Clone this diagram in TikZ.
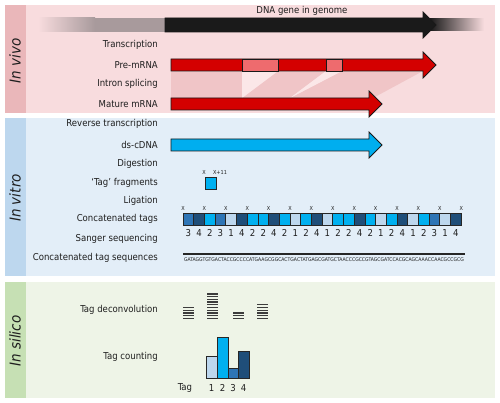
\documentclass[tikz,border=0pt]{standalone}
\usepackage{fontspec}
\usepackage{graphicx}
\setmainfont{DejaVu Sans Condensed}
\definecolor{txtgray}{HTML}{1E1E1E}
\definecolor{vivoBg}{HTML}{F8DCDE}
\definecolor{vivoStrip}{HTML}{EAB7BA}
\definecolor{vitroBg}{HTML}{E3EEF8}
\definecolor{vitroStrip}{HTML}{BDD7EE}
\definecolor{silicoBg}{HTML}{EEF4E7}
\definecolor{silicoStrip}{HTML}{C6E0B4}
\definecolor{geneGray}{HTML}{A89A9C}
\definecolor{geneBlack}{HTML}{1A1A1A}
\definecolor{exonRed}{HTML}{D40000}
\definecolor{intronRed}{HTML}{EE6B6E}
\definecolor{spliceShade}{HTML}{F0C5C7}
\definecolor{splicePale}{HTML}{FBE7E8}
\definecolor{cdnaBlue}{HTML}{00AEEF}
\definecolor{tag1}{HTML}{BDD7EE}
\definecolor{tag2}{HTML}{00B0F0}
\definecolor{tag3}{HTML}{2E75B6}
\definecolor{tag4}{HTML}{1F4E79}
\definecolor{stackGray}{HTML}{3C3C3C}

\begin{document}
\begin{tikzpicture}[x=1pt,y=-1pt,
  lbl/.style={anchor=east,inner sep=0pt,text=txtgray,font=\fontsize{9.5}{11}\selectfont},
  phase/.style={rotate=90,inner sep=0pt,text=txtgray,font=\fontsize{15}{17}\selectfont\itshape},
  outl/.style={draw=black!90,line width=0.8pt},
  tagbox/.style={draw=black!85,line width=0.8pt},
  xmark/.style={inner sep=0pt,text=txtgray,font=\fontsize{5.5}{6}\selectfont},
  num/.style={inner sep=0pt,text=txtgray,font=\fontsize{9.5}{11}\selectfont},
  stackline/.style={draw=stackGray,line width=1.3pt}]
\useasboundingbox (0,0) rectangle (500,403);

% panels
\fill[vivoBg] (5,5) rectangle (495,113);
\fill[vivoStrip] (5,5) rectangle (26,113);
\fill[vitroBg] (5,118) rectangle (495,276);
\fill[vitroStrip] (5,118) rectangle (26,276);
\fill[silicoBg] (5,282) rectangle (495,398);
\fill[silicoStrip] (5,282) rectangle (26,398);
\node[phase] (vivo) at (15,61) {In vivo};
\node[phase] (vitro) at (15,198) {In vitro};
\node[phase] (silico) at (15,341) {In silico};

% in vivo
\shade[left color=vivoBg, right color=geneGray] (38,18) rectangle (95,32);
\fill[geneGray] (95,18) rectangle (165,32);
\shade[left color=black!90, right color=vivoBg] (430,19) rectangle (484,31);
\draw[outl,fill=geneBlack] (165,18) -- (423,18) -- (423,12) -- (436,25) -- (423,38) -- (423,32) -- (165,32) -- cycle;
\node[num] (gene) at (302,11) {DNA gene in genome};

\fill[spliceShade] (171,71) rectangle (242,98);
\fill[spliceShade] (278,71) -- (326,71) -- (290,98) -- (242,98) -- cycle;
\fill[spliceShade] (342,71) -- (423,71) -- (373,98) -- (290,98) -- cycle;
\fill[splicePale] (242,71) -- (278,71) -- (242,98) -- cycle;
\fill[splicePale] (326,71) -- (342,71) -- (290,98) -- cycle;

\draw[outl,fill=exonRed] (171,59) -- (423,59) -- (423,52) -- (436,65) -- (423,78) -- (423,71) -- (171,71) -- cycle;
\draw[outl,fill=intronRed] (242,59) rectangle (278,71);
\draw[outl,fill=intronRed] (326,59) rectangle (342,71);
\draw[outl,fill=exonRed] (171,98) -- (369,98) -- (369,91) -- (382,104) -- (369,117) -- (369,110) -- (171,110) -- cycle;

\node[lbl] (transc) at (158,45) {Transcription};
\node[lbl] (premrna) at (158,65) {Pre-mRNA};
\node[lbl] (splice) at (158,84) {Intron splicing};
\node[lbl] (mature) at (158,104) {Mature mRNA};

% in vitro
\node[lbl] (rt) at (158,124) {Reverse transcription};
\node[lbl] (cdna) at (158,145) {ds-cDNA};
\node[lbl] (digest) at (158,164) {Digestion};
\node[lbl] (frag) at (158,183) {`Tag' fragments};
\node[lbl] (ligate) at (158,201) {Ligation};
\node[lbl] (concat) at (158,219) {Concatenated tags};
\node[lbl] (sanger) at (158,239) {Sanger sequencing};
\node[lbl] (seqs) at (158,258) {Concatenated tag sequences};

\draw[outl,fill=cdnaBlue] (171,139) -- (369,139) -- (369,132) -- (382,145) -- (369,158) -- (369,151) -- (171,151) -- cycle;

\draw[tagbox,fill=tag2] (205,177) rectangle (216,189);
\node[xmark] (fx) at (204,172) {X};
\node[xmark] (fx11) at (220,172) {X+11};

\foreach \t [count=\i from 0] in {3,4,2,3,1,4,2,2,4,2,1,2,4,1,2,2,4,2,1,2,4,1,2,3,1,4} {
  \pgfmathsetmacro\x{183+10.7*\i}
  \draw[tagbox,fill=tag\t] (\x,213) rectangle ++(10.7,12);
  \node[num] (n\i) at (\x+5.35,233) {\t};
}
\foreach \j in {0,...,13}
  \node[xmark] (x\j) at (183+21.4*\j,208) {X};

\draw[line width=1.1pt,black!85] (183,254) -- (465,254);
\node[inner sep=0pt,text=txtgray] (seq) at (324,260) {\resizebox{280pt}{!}{GATAGGTGTGACTACCGCCCCATGAAGCGGCACTGACTATGAGCGATGCTAACCCGCCGTAGCGATCCACGCAGCAAACCAACGCCGCG}};

% in silico
\node[lbl] (deconv) at (158,310) {Tag deconvolution};
\node[lbl] (count) at (158,357) {Tag counting};

\foreach \gx/\n in {183/5,207/10,233/3,257/6}
  \foreach \k in {1,...,\n}
    \draw[stackline] (\gx,321-2.7*\k) -- ++(11,0);

\draw[tagbox,fill=tag1] (206,378) rectangle (217,356);
\draw[tagbox,fill=tag2] (217,378) rectangle (228,337);
\draw[tagbox,fill=tag3] (228,378) rectangle (238,368);
\draw[tagbox,fill=tag4] (238,378) rectangle (249,351);
\node[num] (tag) at (185,388) {Tag};
\foreach \b/\bx in {1/211.5,2/222.5,3/233,4/243.5}
  \node[num] (b\b) at (\bx,388) {\b};
\end{tikzpicture}
\end{document}
